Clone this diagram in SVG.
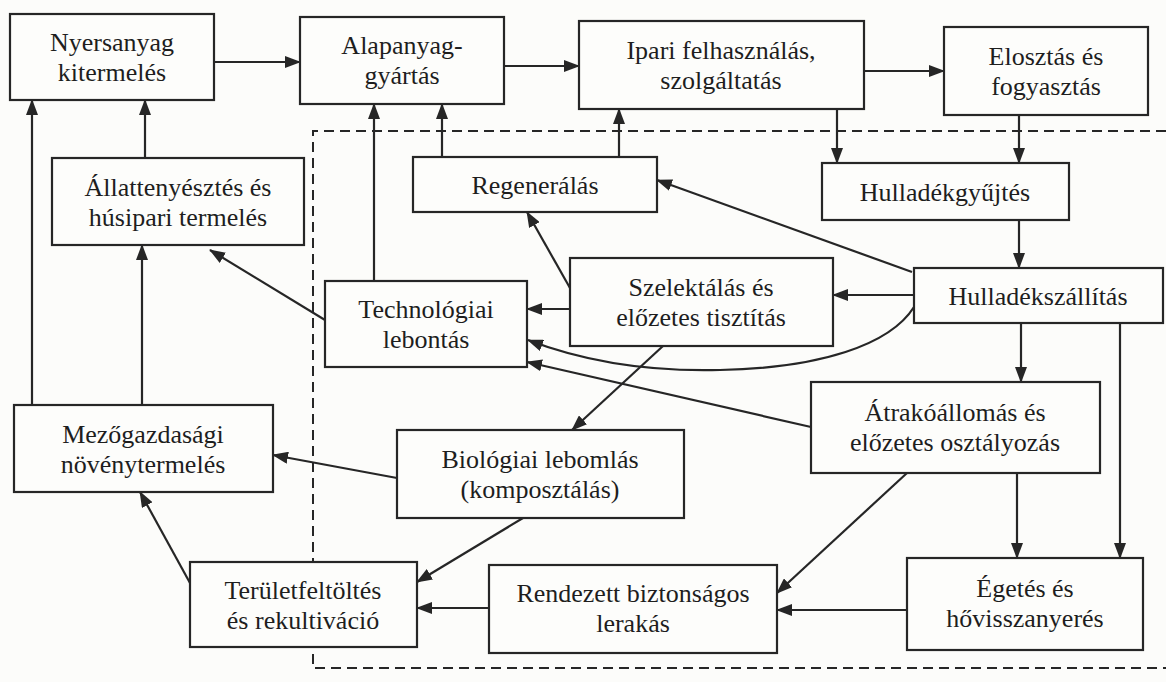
<svg xmlns="http://www.w3.org/2000/svg" width="1166" height="682" viewBox="0 0 1166 682" font-family="Liberation Serif, Times New Roman, serif">
<style>
.bg{fill:#fcfcfa}
.box{fill:#fdfdfb;stroke:#262626;stroke-width:2.2}
.t{font-size:26px;fill:#1e1e1e;text-anchor:middle}
.c{fill:none;stroke:#262626;stroke-width:2.2;marker-end:url(#ah)}
.d{fill:none;stroke:#262626;stroke-width:2;stroke-dasharray:10,6}
</style>
<defs>
<marker id="ah" markerUnits="userSpaceOnUse" markerWidth="16" markerHeight="12" refX="15" refY="6" orient="auto">
<path d="M0,0 L16,6 L0,12 z" fill="#262626"/>
</marker>
</defs>
<rect class="bg" x="0" y="0" width="1166" height="682"/>
<path class="d" d="M1166,131 H313 V668 H1166"/>
<g id="connectors">
<path class="c" d="M214,62 H300"/>
<path class="c" d="M504,66 H579"/>
<path class="c" d="M864,71 H944"/>
<path class="c" d="M145,158 V100"/>
<path class="c" d="M32,405 V100"/>
<path class="c" d="M142,405 V245"/>
<path class="c" d="M325,320 L210,250"/>
<path class="c" d="M374,281 V104"/>
<path class="c" d="M442,157 V104"/>
<path class="c" d="M619,157 V109"/>
<path class="c" d="M837,109 V163"/>
<path class="c" d="M1019,115 V163"/>
<path class="c" d="M1019,220 V268"/>
<path class="c" d="M912,272 L657,180"/>
<path class="c" d="M570,288 L527,212"/>
<path class="c" d="M570,309 H527"/>
<path class="c" d="M914,295 H833"/>
<path class="c" d="M914,307 C890,345 820,368 720,370 C640,372 580,360 528,340"/>
<path class="c" d="M811,427 L527,362"/>
<path class="c" d="M1021,323 V382"/>
<path class="c" d="M1120,323 V558"/>
<path class="c" d="M1017,473 V558"/>
<path class="c" d="M907,473 L777,593"/>
<path class="c" d="M907,610 H777"/>
<path class="c" d="M489,608 H417"/>
<path class="c" d="M663,346 L572,430"/>
<path class="c" d="M397,478 L273,455"/>
<path class="c" d="M523,518 L417,582"/>
<path class="c" d="M190,583 L140,492"/>
</g>
<g id="n1"><rect class="box" x="10" y="14" width="204" height="86"/><text class="t" x="112" y="51">Nyersanyag</text><text class="t" x="112" y="81">kitermelés</text></g>
<g id="n2"><rect class="box" x="300" y="17" width="204" height="87"/><text class="t" x="402" y="54">Alapanyag-</text><text class="t" x="402" y="84">gyártás</text></g>
<g id="n3"><rect class="box" x="579" y="21" width="285" height="88"/><text class="t" x="721" y="59">Ipari felhasználás,</text><text class="t" x="721" y="89">szolgáltatás</text></g>
<g id="n4"><rect class="box" x="944" y="27" width="204" height="88"/><text class="t" x="1046" y="65">Elosztás és</text><text class="t" x="1046" y="95">fogyasztás</text></g>
<g id="n5"><rect class="box" x="52" y="158" width="252" height="87"/><text class="t" x="178" y="196">Állattenyésztés és</text><text class="t" x="178" y="226">húsipari termelés</text></g>
<g id="n6"><rect class="box" x="413" y="157" width="244" height="55"/><text class="t" x="535" y="194">Regenerálás</text></g>
<g id="n7"><rect class="box" x="822" y="163" width="247" height="57"/><text class="t" x="945" y="201">Hulladékgyűjtés</text></g>
<g id="n8"><rect class="box" x="325" y="281" width="202" height="86"/><text class="t" x="426" y="318">Technológiai</text><text class="t" x="426" y="348">lebontás</text></g>
<g id="n9"><rect class="box" x="570" y="258" width="263" height="88"/><text class="t" x="701" y="296">Szelektálás és</text><text class="t" x="701" y="326">előzetes tisztítás</text></g>
<g id="n10"><rect class="box" x="914" y="268" width="249" height="55"/><text class="t" x="1038" y="305">Hulladékszállítás</text></g>
<g id="n11"><rect class="box" x="14" y="405" width="259" height="87"/><text class="t" x="143" y="443">Mezőgazdasági</text><text class="t" x="143" y="473">növénytermelés</text></g>
<g id="n12"><rect class="box" x="397" y="430" width="287" height="88"/><text class="t" x="540" y="468">Biológiai lebomlás</text><text class="t" x="540" y="498">(komposztálás)</text></g>
<g id="n13"><rect class="box" x="811" y="382" width="289" height="91"/><text class="t" x="955" y="421">Átrakóállomás és</text><text class="t" x="955" y="451">előzetes osztályozás</text></g>
<g id="n14"><rect class="box" x="190" y="562" width="227" height="85"/><text class="t" x="303" y="599">Területfeltöltés</text><text class="t" x="303" y="629">és rekultiváció</text></g>
<g id="n15"><rect class="box" x="489" y="565" width="288" height="88"/><text class="t" x="633" y="602">Rendezett biztonságos</text><text class="t" x="633" y="632">lerakás</text></g>
<g id="n16"><rect class="box" x="907" y="558" width="236" height="92"/><text class="t" x="1025" y="597">Égetés és</text><text class="t" x="1025" y="627">hővisszanyerés</text></g>
</svg>
